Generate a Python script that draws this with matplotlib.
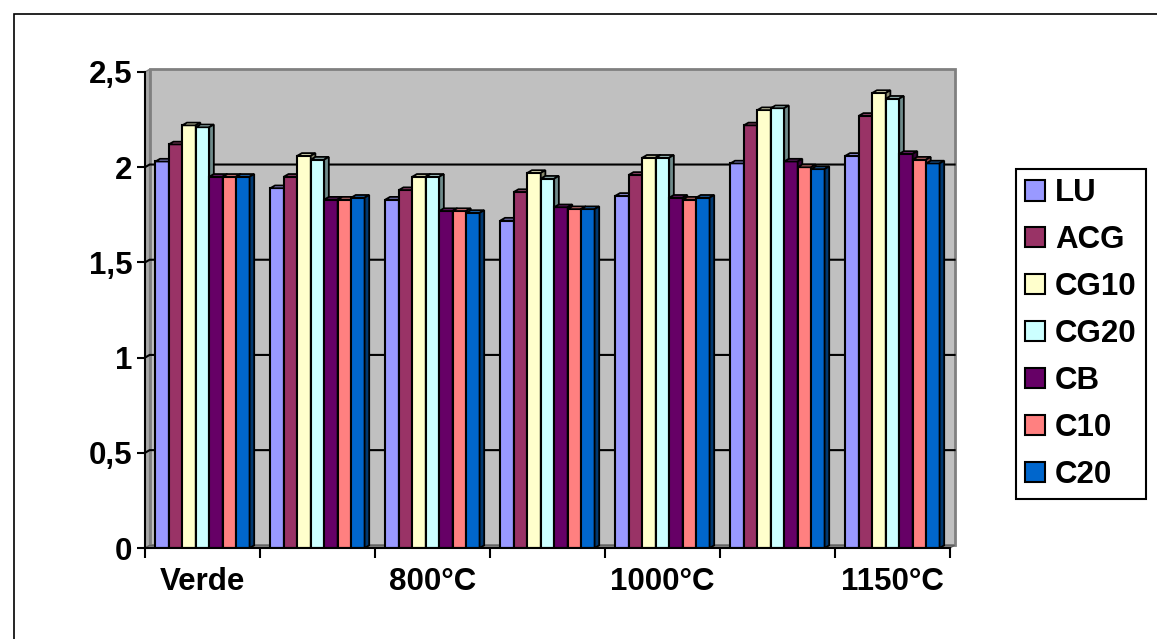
import matplotlib
matplotlib.use('Agg')
import matplotlib.pyplot as plt
from matplotlib.patches import Polygon, Rectangle, Patch
from matplotlib.colors import to_rgb
import numpy as np

plt.rcParams['font.family'] = ['Liberation Sans', 'DejaVu Sans']
plt.rcParams['font.weight'] = 'bold'

# categorias (so as visiveis no eixo)
categories = ["Verde", "", "800°C", "", "1000°C", "", "1150°C"]
series = ["LU", "ACG", "CG10", "CG20", "CB", "C10", "C20"]

LU   = [2.03, 1.89, 1.83, 1.72, 1.85, 2.02, 2.06]
ACG  = [2.12, 1.95, 1.88, 1.87, 1.96, 2.22, 2.27]
CG10 = [2.22, 2.06, 1.95, 1.97, 2.05, 2.30, 2.39]
CG20 = [2.21, 2.04, 1.95, 1.94, 2.05, 2.31, 2.36]
CB   = [1.95, 1.83, 1.77, 1.79, 1.84, 2.03, 2.07]
C10  = [1.95, 1.83, 1.77, 1.78, 1.83, 2.00, 2.04]
C20  = [1.95, 1.84, 1.76, 1.78, 1.84, 1.99, 2.02]
values = [LU, ACG, CG10, CG20, CB, C10, C20]

colors = ['#9999FF', '#993366', '#FFFFCC', '#CCFFFF', '#660066', '#FF8080', '#0066CC']

FS = 22.5
W, H = 1157, 639
fig = plt.figure(figsize=(W / 100, H / 100), dpi=100, facecolor='white')
fig.patches.append(Rectangle((14 / W, -0.1), 1.2, 1 - 14 / H + 0.1, transform=fig.transFigure,
                             fill=False, edgecolor='black', linewidth=1.2))

ax = fig.add_axes([145 / W, (H - 548) / H, (950 - 145) / W, (548 - 72) / H])
ax.set_facecolor('none')
ax.set_xlim(-0.5, 6.5)
ax.set_ylim(0, 2.5)

dx, dy = 0.04, 0.014  # profundidade 3D

x0, x1 = -0.5, 6.5
# parede do fundo
ax.add_patch(Polygon([(x0 + dx, dy), (x1 + dx, dy), (x1 + dx, 2.5 + dy), (x0 + dx, 2.5 + dy)],
                     closed=True, facecolor='#C0C0C0', edgecolor='#808080', linewidth=2,
                     zorder=0, clip_on=False))
# parede lateral
ax.add_patch(Polygon([(x0, 0), (x0 + dx, dy), (x0 + dx, 2.5 + dy), (x0, 2.5)],
                     closed=True, facecolor='#A8A8A8', edgecolor='#808080', linewidth=1,
                     zorder=0.1, clip_on=False))
# chao
ax.add_patch(Polygon([(x0, 0), (x1, 0), (x1 + dx, dy), (x0 + dx, dy)],
                     closed=True, facecolor='#808080', edgecolor='#606060', linewidth=0.8,
                     zorder=0.2, clip_on=False))
for yv in [0.5, 1.0, 1.5, 2.0]:
    ax.plot([x0, x0 + dx, x1 + dx], [yv, yv + dy, yv + dy], color='black', linewidth=1.5,
            zorder=0.5, clip_on=False)

x = np.arange(len(categories))
w = 0.117
z = 2
for g in range(len(categories)):
    for k, (vals, c) in enumerate(zip(values, colors)):
        xl = x[g] + (k - 3.5) * w
        v = vals[g]
        rgb = np.array(to_rgb(c))
        b = ax.bar(xl, v, width=w, align='edge', color=c, edgecolor='black', linewidth=1.5,
                   zorder=z)[0]
        bx, bw, bh = b.get_x(), b.get_width(), b.get_height()
        ax.add_patch(Polygon([(bx, bh), (bx + bw, bh), (bx + bw + dx, bh + dy), (bx + dx, bh + dy)],
                             closed=True, facecolor=rgb * 0.75 + 0.25 * 0.5, edgecolor='black',
                             linewidth=1.3, zorder=z + 0.1, clip_on=False))
        ax.add_patch(Polygon([(bx + bw, 0), (bx + bw + dx, dy), (bx + bw + dx, bh + dy), (bx + bw, bh)],
                             closed=True, facecolor=rgb * 0.55, edgecolor='black',
                             linewidth=1.3, zorder=z + 0.1, clip_on=False))
        z += 1

for s in ['top', 'right']:
    ax.spines[s].set_visible(False)
for s in ['left', 'bottom']:
    ax.spines[s].set_linewidth(1.5)
    ax.spines[s].set_zorder(200)

yt = [0, 0.5, 1, 1.5, 2, 2.5]
ax.set_yticks(yt)
ax.set_yticklabels([f'{t:g}'.replace('.', ',') for t in yt], fontsize=FS, fontweight='bold')
ax.tick_params(axis='y', length=6, width=1.5, pad=3)

ax.set_xticks(np.arange(-0.5, 7, 1))
ax.set_xticklabels([])
ax.tick_params(axis='x', which='major', length=7, width=1.5, direction='out')
ax.set_xticks(x, minor=True)
ax.set_xticklabels(categories, minor=True, fontsize=FS, fontweight='bold')
ax.tick_params(axis='x', which='minor', length=0, pad=14)

handles = [Patch(facecolor=c, edgecolor='black', linewidth=1.5) for c in colors]
leg = fig.legend(handles, series, loc='upper left', bbox_to_anchor=(1016 / W, 1 - 169 / H),
                 prop={'weight': 'bold', 'size': FS}, handlelength=0.62,
                 handleheight=0.62, handletextpad=0.32, labelspacing=0.54, borderpad=0.3,
                 borderaxespad=0, fancybox=False, framealpha=1, edgecolor='black')
leg.get_frame().set_linewidth(1.5)

fig.savefig('out.png', dpi=100, facecolor='white')
